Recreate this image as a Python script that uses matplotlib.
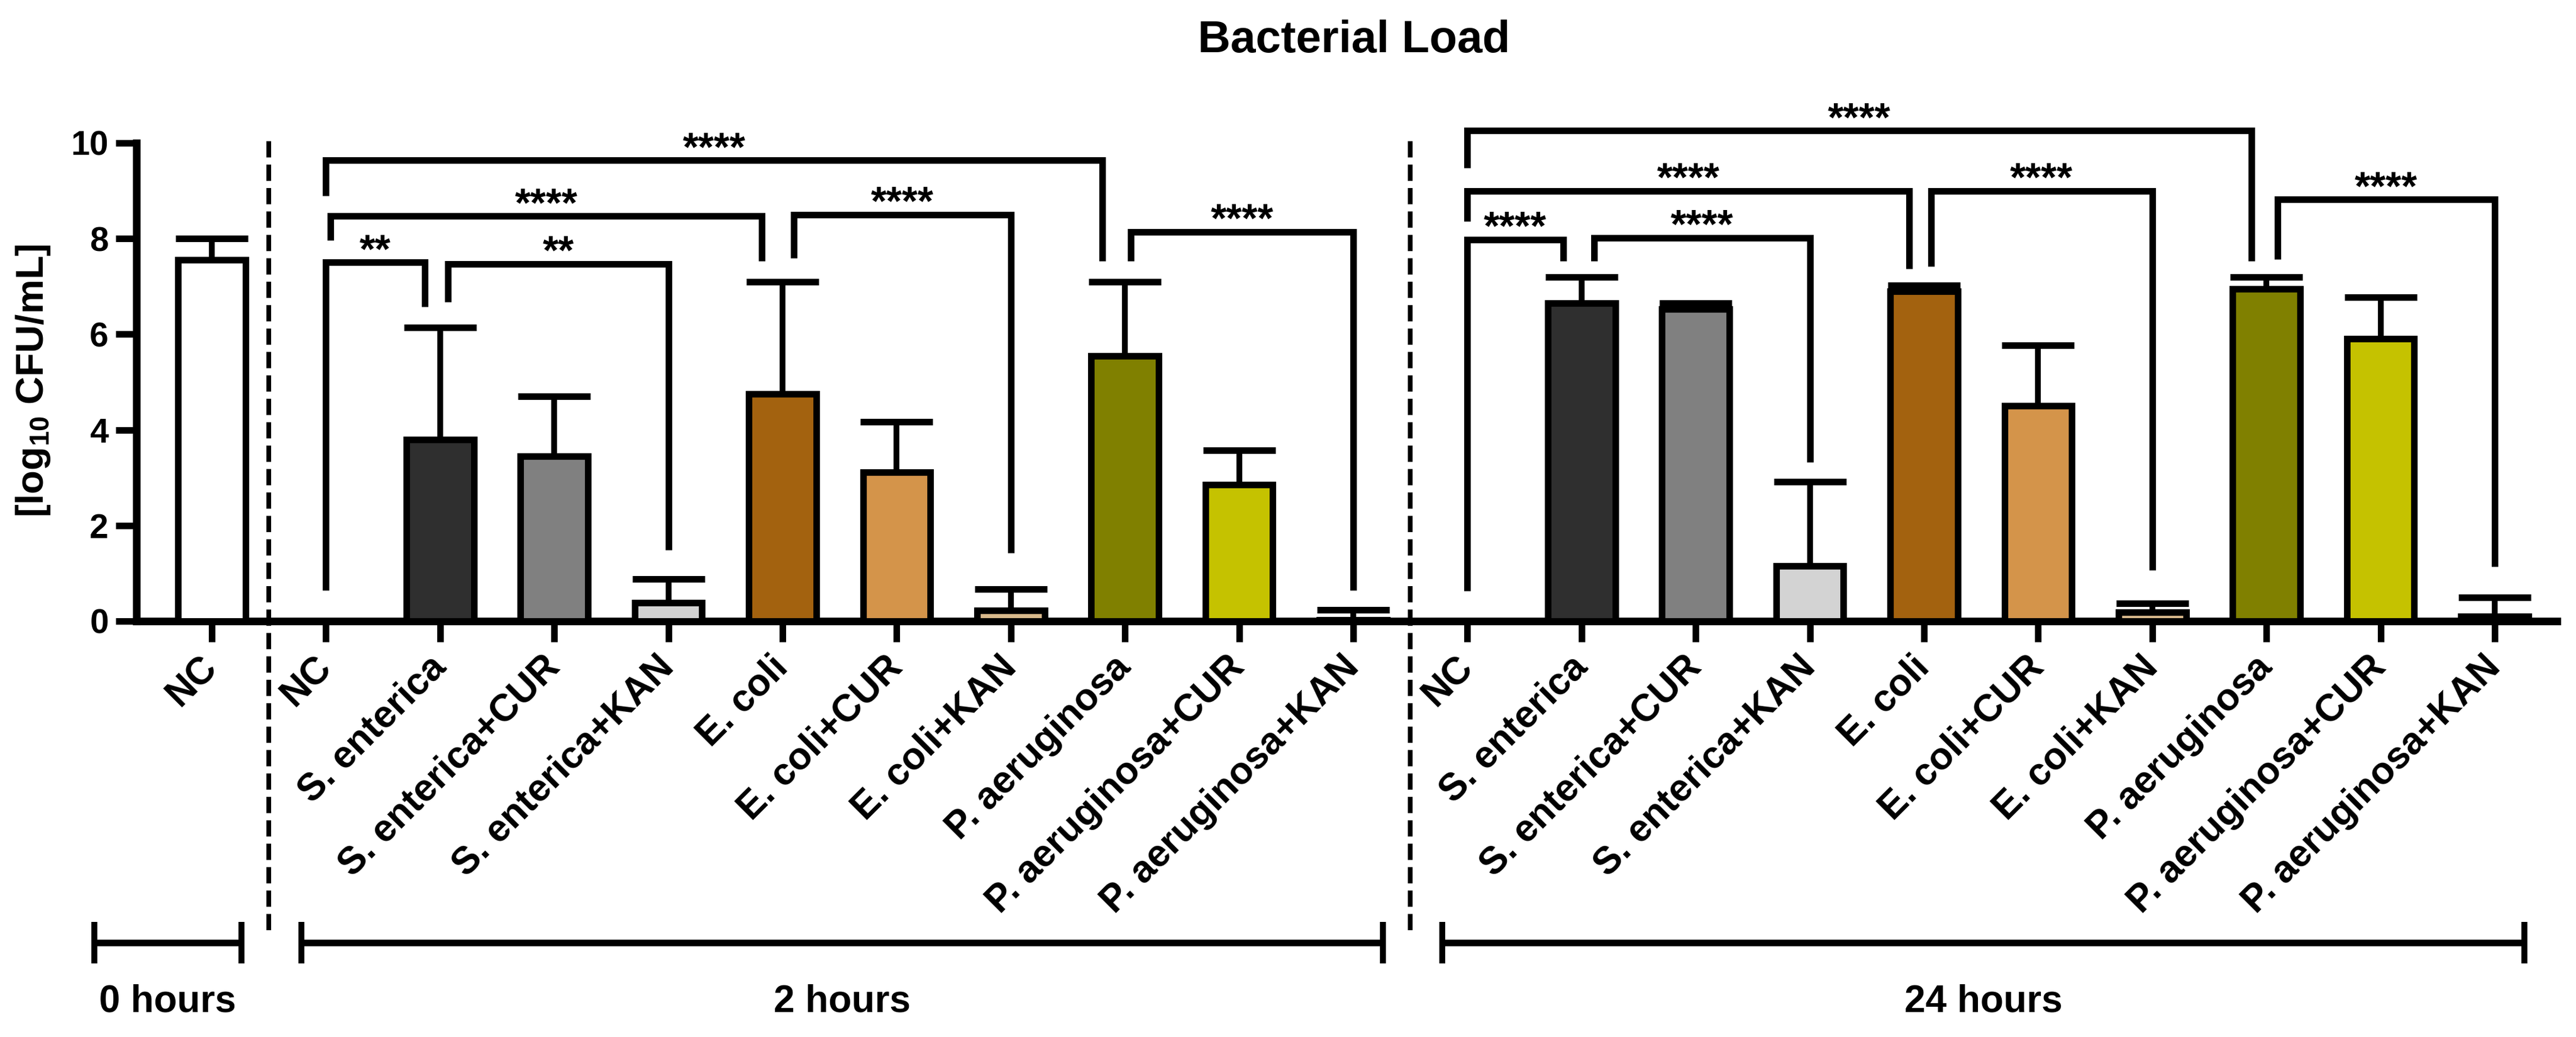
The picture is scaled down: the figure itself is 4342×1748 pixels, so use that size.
import numpy as np
import matplotlib
matplotlib.use('Agg')
import matplotlib.pyplot as plt
from matplotlib.transforms import blended_transform_factory

# bar data: 0 h control, then 2 h and 24 h groups
labels = ['NC',
          'NC', 'S. enterica', 'S. enterica+CUR', 'S. enterica+KAN',
          'E. coli', 'E. coli+CUR', 'E. coli+KAN',
          'P. aeruginosa', 'P. aeruginosa+CUR', 'P. aeruginosa+KAN',
          'NC', 'S. enterica', 'S. enterica+CUR', 'S. enterica+KAN',
          'E. coli', 'E. coli+CUR', 'E. coli+KAN',
          'P. aeruginosa', 'P. aeruginosa+CUR', 'P. aeruginosa+KAN']
means = [7.55,
         0.0, 3.80, 3.45, 0.38, 4.75, 3.12, 0.22, 5.55, 2.85, 0.02,
         0.0, 6.65, 6.52, 1.15, 6.90, 4.50, 0.18, 6.95, 5.90, 0.10]
errs = [0.45,
        0.0, 2.34, 1.25, 0.50, 2.35, 1.05, 0.45, 1.55, 0.72, 0.22,
        0.0, 0.55, 0.13, 1.77, 0.12, 1.27, 0.19, 0.25, 0.87, 0.40]
colors = ['#ffffff',
          '#ffffff', '#2f2f2f', '#808080', '#d3d3d3', '#a3620f', '#d4944a', '#d9b98c',
          '#808000', '#c5c200', '#eeee99',
          '#ffffff', '#2f2f2f', '#808080', '#d3d3d3', '#a3620f', '#d4944a', '#d9b98c',
          '#808000', '#c5c200', '#eeee99']

# significance brackets (category index from/to, heights in log10 CFU/mL)
sig_from = [1, 2, 1, 5, 1, 8, 11, 12, 11, 15, 11, 18]
sig_to = [2, 4, 5, 7, 8, 10, 12, 14, 15, 17, 18, 20]
sig_top = [7.50, 7.47, 8.47, 8.50, 9.64, 8.14, 7.98, 8.02, 9.00, 9.00, 10.26, 8.82]
sig_left_end = [0.64, 6.67, 7.97, 7.59, 8.90, 7.53, 0.63, 7.53, 8.36, 7.42, 9.48, 7.57]
sig_right_end = [6.58, 1.49, 7.53, 1.43, 7.53, 0.64, 7.53, 3.32, 7.37, 1.07, 7.53, 1.14]
sig_text = ['**', '**', '****', '****', '****', '****',
            '****', '****', '****', '****', '****', '****']
sig_dx_left = [0, 0.07, 0.04, 0.1, 0, 0.05, 0, 0.11, 0, 0.06, 0, 0.1]
sig_dx_right = [-0.135, 0, -0.18, 0, -0.2, 0, -0.16, 0, -0.13, 0, -0.13, 0]

# time groups under the axis
group_names = ['0 hours', '2 hours', '24 hours']
group_first = [0, 1, 11]
group_last = [0, 10, 20]
group_pad_left = [1.03, 0.215, 0.22]

plt.rcParams['font.family'] = ['Liberation Sans', 'DejaVu Sans']
plt.rcParams['font.weight'] = 'bold'
plt.rcParams['mathtext.fontset'] = 'custom'
plt.rcParams['mathtext.rm'] = 'Liberation Sans:bold'
plt.rcParams['mathtext.bf'] = 'Liberation Sans:bold'
plt.rcParams['mathtext.default'] = 'rm'

fig = plt.figure(figsize=(21.71, 8.74), dpi=200)
ax = fig.add_axes([0.05297, 0.40103, 0.93966, 0.4611])

x = np.arange(len(labels))
ax.errorbar(x, means, yerr=[np.zeros(len(errs)), errs], fmt='none', ecolor='black',
            elinewidth=3.5, capsize=22, capthick=4, zorder=2)
ax.bar(x, means, width=0.59, color=colors, edgecolor='black', linewidth=4, zorder=3)

ax.set_xlim(-0.66, 20.546)
ax.set_ylim(0, 10)
ax.set_yticks([0, 2, 4, 6, 8, 10])
ax.set_xticks(x)
ax.set_xticklabels(labels, rotation=45, ha='right', va='center', rotation_mode='anchor',
                   fontsize=23, fontweight='bold')
for t in ax.get_yticklabels():
    t.set_fontsize(20.5)
    t.set_fontweight('bold')
ax.tick_params(axis='both', width=4, length=12.6, direction='out')
ax.tick_params(axis='x', pad=12)
ax.tick_params(axis='y', pad=4.3)
for s in ['top', 'right']:
    ax.spines[s].set_visible(False)
for s in ['left', 'bottom']:
    ax.spines[s].set_linewidth(4.6)

trans = blended_transform_factory(ax.transData, ax.transAxes)

# dashed separators between time points
for k in range(1, len(group_first)):
    xs = (group_last[k - 1] + group_first[k]) / 2
    ax.plot([xs, xs], [1.004, -0.6576], transform=trans, color='black', lw=2.9,
            dashes=(3.4, 1.5), clip_on=False, zorder=1)

# significance brackets
for k in range(len(sig_from)):
    xl = sig_from[k] + sig_dx_left[k]
    xr = sig_to[k] + sig_dx_right[k]
    ax.plot([xl, xl, xr, xr], [sig_left_end[k], sig_top[k], sig_top[k], sig_right_end[k]],
            color='black', lw=4, solid_joinstyle='miter', solid_capstyle='butt',
            clip_on=False, zorder=4)
    ax.text((xl + xr) / 2, sig_top[k], sig_text[k], ha='center', va='baseline',
            fontsize=24.5, fontweight='bold')

# time-point brackets below the labels
for k in range(len(group_names)):
    x0 = group_first[k] - group_pad_left[k]
    x1 = group_last[k] + 0.26
    ax.plot([x0, x1], [-0.6725, -0.6725], transform=trans, color='black', lw=4,
            solid_capstyle='butt', clip_on=False)
    for xe in [x0, x1]:
        ax.plot([xe, xe], [-0.6725 + 0.043, -0.6725 - 0.043], transform=trans,
                color='black', lw=3.6, solid_capstyle='butt', clip_on=False)
    ax.text((x0 + x1) / 2, -0.8176, group_names[k], transform=trans, ha='center',
            va='baseline', fontsize=23, fontweight='bold')

fig.text(0.5256, 0.9497, 'Bacterial Load', ha='center', va='baseline', fontsize=27.5,
         fontweight='bold')
fig.text(0.0129, 0.6327, r'[log$_{10}$ CFU/mL]', rotation=90, ha='center', va='center',
         fontsize=23.5, fontweight='bold')

fig.savefig('out.png', dpi=200)
